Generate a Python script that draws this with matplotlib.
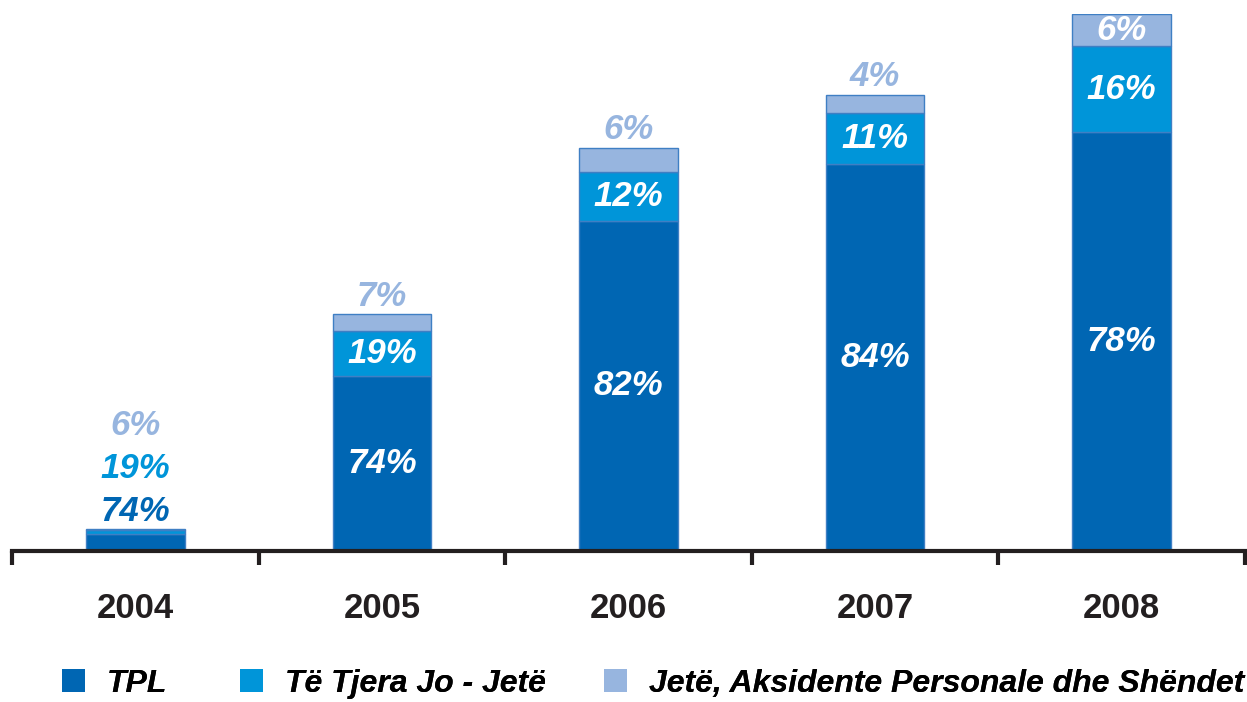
import numpy as np
import matplotlib
matplotlib.use('Agg')
from matplotlib import pyplot as plt
from matplotlib.patches import Patch

years = ["2004", "2005", "2006", "2007", "2008"]
totals = [22, 235, 400, 453, 533]          # bar heights (relative)
tpl_pct = [74, 74, 82, 84, 78]
other_pct = [19, 19, 12, 11, 16]
life_pct = [6, 7, 6, 4, 6]
series_names = ["TPL", "Të Tjera Jo - Jetë", "Jetë, Aksidente Personale dhe Shëndet"]

c_tpl = "#0066B3"
c_other = "#0095D9"
c_life = "#97B5DF"
c_edge = "#3F7FC4"
c_axis = "#231F20"

plt.rcParams['font.family'] = ["Liberation Sans", "DejaVu Sans"]

tpl_pct = np.array(tpl_pct, float)
other_pct = np.array(other_pct, float)
life_pct = np.array(life_pct, float)
totals = np.array(totals, float)
s = tpl_pct + other_pct + life_pct
tpl = totals * tpl_pct / s
other = totals * other_pct / s
life = totals * life_pct / s

fig = plt.figure(figsize=(12.47, 7.02), dpi=100)
ax = fig.add_axes([12 / 1247, 1 - 551 / 702, 1233 / 1247, 551 / 702 - 14 / 702])
x = np.arange(len(years))
w = 0.4
kw = dict(width=w, edgecolor=c_edge, linewidth=1)
ax.bar(x, tpl, color=c_tpl, **kw)
ax.bar(x, other, bottom=tpl, color=c_other, **kw)
ax.bar(x, life, bottom=tpl + other, color=c_life, **kw)

ax.set_xlim(-0.5, 4.5)
ax.set_ylim(0, 533)
for sp in ["top", "right", "left"]:
    ax.spines[sp].set_visible(False)
ax.spines["bottom"].set_color(c_axis)
ax.spines["bottom"].set_linewidth(3)
ax.set_yticks([])
ax.set_xticks(np.arange(-0.5, 5, 1.0))
ax.set_xticklabels([])
ax.tick_params(axis="x", direction="out", length=10, width=3, color=c_axis)
for i, y in enumerate(years):
    ax.annotate(y, (i, 0), xytext=(0, -57), textcoords="offset pixels",
                ha="center", va="center", fontsize=25, fontweight="bold", color=c_axis)

lab = dict(ha="center", va="center", fontsize=25, fontweight="bold", fontstyle="italic")
for i in range(len(years)):
    t = f"{int(tpl_pct[i])}%"
    o = f"{int(other_pct[i])}%"
    l = f"{int(life_pct[i])}%"
    top = totals[i]
    if i == 0:
        ax.annotate(t, (i, top), xytext=(0, 17), textcoords="offset pixels", color=c_tpl, **lab)
        ax.annotate(o, (i, top), xytext=(0, 60), textcoords="offset pixels", color=c_other, **lab)
        ax.annotate(l, (i, top), xytext=(0, 103), textcoords="offset pixels", color=c_life, **lab)
        continue
    ax.text(i, tpl[i] / 2, t, color="white", **lab)
    ax.text(i, tpl[i] + other[i] / 2, o, color="white", **lab)
    if life[i] > 30:
        ax.text(i, tpl[i] + other[i] + life[i] / 2, l, color="white", **lab)
    else:
        ax.annotate(l, (i, top), xytext=(0, 18), textcoords="offset pixels", color=c_life, **lab)

# legend: one entry each so the gaps match the original
leg_x = [62, 240, 604]
for name, c, lx in zip(series_names, (c_tpl, c_other, c_life), leg_x):
    leg = fig.legend([Patch(facecolor=c, edgecolor="none")], [name], loc="center left",
                     bbox_to_anchor=(lx / 1247, 1 - 684 / 702), frameon=False,
                     handlelength=0.72, handleheight=0.72, handletextpad=0.68,
                     borderaxespad=0, borderpad=0,
                     prop=dict(weight="bold", style="italic", size=23))
    fig.add_artist(leg)

plt.savefig("out.png", dpi=100)
